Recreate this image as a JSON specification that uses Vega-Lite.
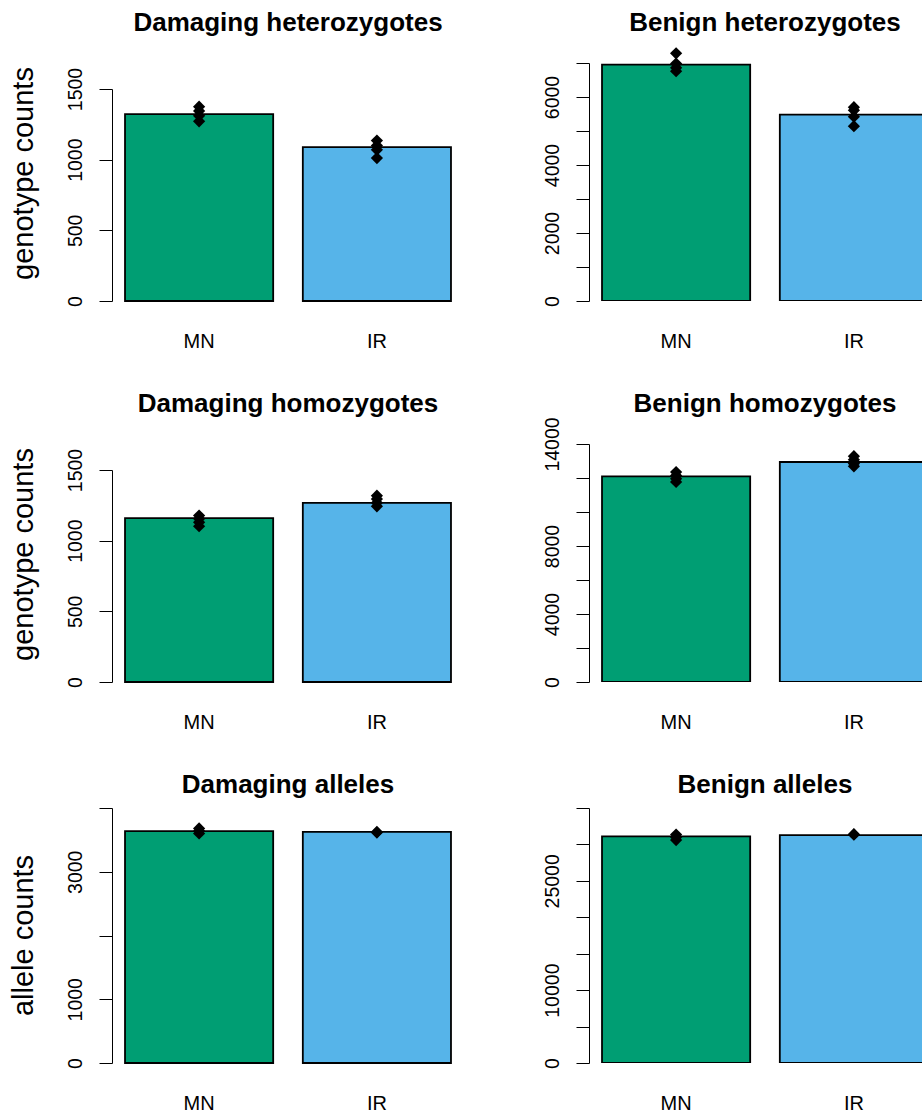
{
  "$schema": "https://vega.github.io/schema/vega-lite/v6.json",
  "background": "white",
  "padding": {"left": 8, "top": 10, "right": 0, "bottom": 0},
  "datasets": {
    "bars": [
      {"panel": "Damaging heterozygotes", "group": "MN", "count": 1322},
      {"panel": "Damaging heterozygotes", "group": "IR", "count": 1089},
      {"panel": "Benign heterozygotes", "group": "MN", "count": 6953},
      {"panel": "Benign heterozygotes", "group": "IR", "count": 5482},
      {"panel": "Damaging homozygotes", "group": "MN", "count": 1159},
      {"panel": "Damaging homozygotes", "group": "IR", "count": 1268},
      {"panel": "Benign homozygotes", "group": "MN", "count": 12100},
      {"panel": "Benign homozygotes", "group": "IR", "count": 12941},
      {"panel": "Damaging alleles", "group": "MN", "count": 3637},
      {"panel": "Damaging alleles", "group": "IR", "count": 3627},
      {"panel": "Benign alleles", "group": "MN", "count": 31100},
      {"panel": "Benign alleles", "group": "IR", "count": 31280}
    ],
    "pts": [
      {"panel": "Damaging heterozygotes", "group": "MN", "count": 1375},
      {"panel": "Damaging heterozygotes", "group": "MN", "count": 1345},
      {"panel": "Damaging heterozygotes", "group": "MN", "count": 1310},
      {"panel": "Damaging heterozygotes", "group": "MN", "count": 1271},
      {"panel": "Damaging heterozygotes", "group": "IR", "count": 1135},
      {"panel": "Damaging heterozygotes", "group": "IR", "count": 1100},
      {"panel": "Damaging heterozygotes", "group": "IR", "count": 1070},
      {"panel": "Damaging heterozygotes", "group": "IR", "count": 1011},
      {"panel": "Benign heterozygotes", "group": "MN", "count": 7285},
      {"panel": "Benign heterozygotes", "group": "MN", "count": 6985},
      {"panel": "Benign heterozygotes", "group": "MN", "count": 6860},
      {"panel": "Benign heterozygotes", "group": "MN", "count": 6760},
      {"panel": "Benign heterozygotes", "group": "IR", "count": 5700},
      {"panel": "Benign heterozygotes", "group": "IR", "count": 5610},
      {"panel": "Benign heterozygotes", "group": "IR", "count": 5420},
      {"panel": "Benign heterozygotes", "group": "IR", "count": 5140},
      {"panel": "Damaging homozygotes", "group": "MN", "count": 1178},
      {"panel": "Damaging homozygotes", "group": "MN", "count": 1155},
      {"panel": "Damaging homozygotes", "group": "MN", "count": 1130},
      {"panel": "Damaging homozygotes", "group": "MN", "count": 1102},
      {"panel": "Damaging homozygotes", "group": "IR", "count": 1318},
      {"panel": "Damaging homozygotes", "group": "IR", "count": 1294},
      {"panel": "Damaging homozygotes", "group": "IR", "count": 1268},
      {"panel": "Damaging homozygotes", "group": "IR", "count": 1243},
      {"panel": "Benign homozygotes", "group": "MN", "count": 12350},
      {"panel": "Benign homozygotes", "group": "MN", "count": 12150},
      {"panel": "Benign homozygotes", "group": "MN", "count": 11960},
      {"panel": "Benign homozygotes", "group": "MN", "count": 11770},
      {"panel": "Benign homozygotes", "group": "IR", "count": 13280},
      {"panel": "Benign homozygotes", "group": "IR", "count": 13080},
      {"panel": "Benign homozygotes", "group": "IR", "count": 12850},
      {"panel": "Benign homozygotes", "group": "IR", "count": 12690},
      {"panel": "Damaging alleles", "group": "MN", "count": 3680},
      {"panel": "Damaging alleles", "group": "MN", "count": 3640},
      {"panel": "Damaging alleles", "group": "MN", "count": 3600},
      {"panel": "Damaging alleles", "group": "IR", "count": 3625},
      {"panel": "Damaging alleles", "group": "IR", "count": 3615},
      {"panel": "Benign alleles", "group": "MN", "count": 31350},
      {"panel": "Benign alleles", "group": "MN", "count": 31000},
      {"panel": "Benign alleles", "group": "MN", "count": 30600},
      {"panel": "Benign alleles", "group": "IR", "count": 31400},
      {"panel": "Benign alleles", "group": "IR", "count": 31330}
    ]
  },
  "columns": 2,
  "bounds": "flush",
  "spacing": {"row": 121, "column": 125},
  "concat": [
    {
      "title": {"text": "Damaging heterozygotes"},
      "width": 352, "height": 260,
      "layer": [
        {
          "data": {"name": "bars"},
          "transform": [{"filter": {"field": "panel", "equal": "Damaging heterozygotes"}}],
          "mark": {"type": "bar", "stroke": "black", "strokeWidth": 1.8},
          "encoding": {
            "x": {"field": "group", "type": "nominal", "sort": ["MN", "IR"], "title": null, "scale": {"paddingInner": 0.1667, "paddingOuter": 0.0732}},
            "y": {"field": "count", "type": "quantitative", "scale": {"domain": [0, 1500], "range": [260, 48], "nice": false}, "axis": {"title": "genotype counts", "values": [0, 500, 1000, 1500], "format": "d"}},
            "color": {"field": "group", "type": "nominal", "scale": {"domain": ["MN", "IR"], "range": ["#009E73", "#56B4E9"]}, "legend": null}
          }
        },
        {
          "data": {"name": "pts"},
          "transform": [{"filter": {"field": "panel", "equal": "Damaging heterozygotes"}}],
          "mark": {"type": "point", "shape": "diamond", "filled": true, "color": "black", "opacity": 1, "size": 150},
          "encoding": {
            "x": {"field": "group", "type": "nominal", "sort": ["MN", "IR"]},
            "y": {"field": "count", "type": "quantitative"}
          }
        }
      ]
    },
    {
      "title": {"text": "Benign heterozygotes", "dx": 9},
      "width": 334, "height": 260,
      "layer": [
        {
          "data": {"name": "bars"},
          "transform": [{"filter": {"field": "panel", "equal": "Benign heterozygotes"}}],
          "mark": {"type": "bar", "stroke": "black", "strokeWidth": 1.8, "clip": true},
          "encoding": {
            "x": {"field": "group", "type": "nominal", "sort": ["MN", "IR"], "title": null, "scale": {"range": [0, 352], "paddingInner": 0.1667, "paddingOuter": 0.0732}},
            "y": {"field": "count", "type": "quantitative", "scale": {"domain": [0, 7000], "range": [260, 22], "nice": false}, "axis": {"title": null, "values": [0, 1000, 2000, 3000, 4000, 5000, 6000, 7000], "format": "d", "labelExpr": "indexof([0, 2000, 4000, 6000], datum.value) >= 0 ? datum.label : ''"}},
            "color": {"field": "group", "type": "nominal", "scale": {"domain": ["MN", "IR"], "range": ["#009E73", "#56B4E9"]}, "legend": null}
          }
        },
        {
          "data": {"name": "pts"},
          "transform": [{"filter": {"field": "panel", "equal": "Benign heterozygotes"}}],
          "mark": {"type": "point", "shape": "diamond", "filled": true, "color": "black", "opacity": 1, "size": 150},
          "encoding": {
            "x": {"field": "group", "type": "nominal", "sort": ["MN", "IR"]},
            "y": {"field": "count", "type": "quantitative"}
          }
        }
      ]
    },
    {
      "title": {"text": "Damaging homozygotes"},
      "width": 352, "height": 260,
      "layer": [
        {
          "data": {"name": "bars"},
          "transform": [{"filter": {"field": "panel", "equal": "Damaging homozygotes"}}],
          "mark": {"type": "bar", "stroke": "black", "strokeWidth": 1.8},
          "encoding": {
            "x": {"field": "group", "type": "nominal", "sort": ["MN", "IR"], "title": null, "scale": {"paddingInner": 0.1667, "paddingOuter": 0.0732}},
            "y": {"field": "count", "type": "quantitative", "scale": {"domain": [0, 1500], "range": [260, 48], "nice": false}, "axis": {"title": "genotype counts", "values": [0, 500, 1000, 1500], "format": "d"}},
            "color": {"field": "group", "type": "nominal", "scale": {"domain": ["MN", "IR"], "range": ["#009E73", "#56B4E9"]}, "legend": null}
          }
        },
        {
          "data": {"name": "pts"},
          "transform": [{"filter": {"field": "panel", "equal": "Damaging homozygotes"}}],
          "mark": {"type": "point", "shape": "diamond", "filled": true, "color": "black", "opacity": 1, "size": 150},
          "encoding": {
            "x": {"field": "group", "type": "nominal", "sort": ["MN", "IR"]},
            "y": {"field": "count", "type": "quantitative"}
          }
        }
      ]
    },
    {
      "title": {"text": "Benign homozygotes", "dx": 9, "offset": 0},
      "width": 334, "height": 260,
      "layer": [
        {
          "data": {"name": "bars"},
          "transform": [{"filter": {"field": "panel", "equal": "Benign homozygotes"}}],
          "mark": {"type": "bar", "stroke": "black", "strokeWidth": 1.8, "clip": true},
          "encoding": {
            "x": {"field": "group", "type": "nominal", "sort": ["MN", "IR"], "title": null, "scale": {"range": [0, 352], "paddingInner": 0.1667, "paddingOuter": 0.0732}},
            "y": {"field": "count", "type": "quantitative", "scale": {"domain": [0, 14000], "range": [260, 22], "nice": false}, "axis": {"title": null, "values": [0, 2000, 4000, 6000, 8000, 10000, 12000, 14000], "format": "d", "labelExpr": "indexof([0, 4000, 8000, 14000], datum.value) >= 0 ? datum.label : ''"}},
            "color": {"field": "group", "type": "nominal", "scale": {"domain": ["MN", "IR"], "range": ["#009E73", "#56B4E9"]}, "legend": null}
          }
        },
        {
          "data": {"name": "pts"},
          "transform": [{"filter": {"field": "panel", "equal": "Benign homozygotes"}}],
          "mark": {"type": "point", "shape": "diamond", "filled": true, "color": "black", "opacity": 1, "size": 150},
          "encoding": {
            "x": {"field": "group", "type": "nominal", "sort": ["MN", "IR"]},
            "y": {"field": "count", "type": "quantitative"}
          }
        }
      ]
    },
    {
      "title": {"text": "Damaging alleles"},
      "width": 352, "height": 260,
      "layer": [
        {
          "data": {"name": "bars"},
          "transform": [{"filter": {"field": "panel", "equal": "Damaging alleles"}}],
          "mark": {"type": "bar", "stroke": "black", "strokeWidth": 1.8},
          "encoding": {
            "x": {"field": "group", "type": "nominal", "sort": ["MN", "IR"], "title": null, "scale": {"paddingInner": 0.1667, "paddingOuter": 0.0732}},
            "y": {"field": "count", "type": "quantitative", "scale": {"domain": [0, 4000], "range": [260, 5], "nice": false}, "axis": {"title": "allele counts", "values": [0, 1000, 2000, 3000, 4000], "format": "d", "labelExpr": "indexof([0, 1000, 3000], datum.value) >= 0 ? datum.label : ''"}},
            "color": {"field": "group", "type": "nominal", "scale": {"domain": ["MN", "IR"], "range": ["#009E73", "#56B4E9"]}, "legend": null}
          }
        },
        {
          "data": {"name": "pts"},
          "transform": [{"filter": {"field": "panel", "equal": "Damaging alleles"}}],
          "mark": {"type": "point", "shape": "diamond", "filled": true, "color": "black", "opacity": 1, "size": 150},
          "encoding": {
            "x": {"field": "group", "type": "nominal", "sort": ["MN", "IR"]},
            "y": {"field": "count", "type": "quantitative"}
          }
        }
      ]
    },
    {
      "title": {"text": "Benign alleles", "dx": 9},
      "width": 334, "height": 260,
      "layer": [
        {
          "data": {"name": "bars"},
          "transform": [{"filter": {"field": "panel", "equal": "Benign alleles"}}],
          "mark": {"type": "bar", "stroke": "black", "strokeWidth": 1.8, "clip": true},
          "encoding": {
            "x": {"field": "group", "type": "nominal", "sort": ["MN", "IR"], "title": null, "scale": {"range": [0, 352], "paddingInner": 0.1667, "paddingOuter": 0.0732}},
            "y": {"field": "count", "type": "quantitative", "scale": {"domain": [0, 35000], "range": [260, 5], "nice": false}, "axis": {"title": null, "values": [0, 5000, 10000, 15000, 20000, 25000, 30000, 35000], "format": "d", "labelExpr": "indexof([0, 10000, 25000], datum.value) >= 0 ? datum.label : ''"}},
            "color": {"field": "group", "type": "nominal", "scale": {"domain": ["MN", "IR"], "range": ["#009E73", "#56B4E9"]}, "legend": null}
          }
        },
        {
          "data": {"name": "pts"},
          "transform": [{"filter": {"field": "panel", "equal": "Benign alleles"}}],
          "mark": {"type": "point", "shape": "diamond", "filled": true, "color": "black", "opacity": 1, "size": 150},
          "encoding": {
            "x": {"field": "group", "type": "nominal", "sort": ["MN", "IR"]},
            "y": {"field": "count", "type": "quantitative"}
          }
        }
      ]
    }
  ],
  "config": {
    "view": {"stroke": null},
    "font": "Liberation Sans",
    "title": {"font": "Liberation Sans", "fontSize": 26, "fontWeight": "bold", "color": "black", "frame": "group", "anchor": "middle", "baseline": "bottom", "offset": 5},
    "axis": {"grid": false, "labelFont": "Liberation Sans", "titleFont": "Liberation Sans", "labelColor": "black", "titleColor": "black", "domainColor": "black", "tickColor": "black", "domainWidth": 1, "tickWidth": 1, "titleFontWeight": "normal"},
    "axisX": {"domain": false, "ticks": false, "tickSize": 0, "labelPadding": 30, "labelAngle": 0, "labelFontSize": 20},
    "axisY": {"labelAngle": 270, "labelAlign": "center", "labelBaseline": "bottom", "labelFontSize": 19.5, "tickSize": 13, "labelPadding": 14, "titleFontSize": 29, "titlePadding": 27, "titleY": 132, "tickCount": 50, "labelOverlap": false, "labelFlush": false}
  }
}
